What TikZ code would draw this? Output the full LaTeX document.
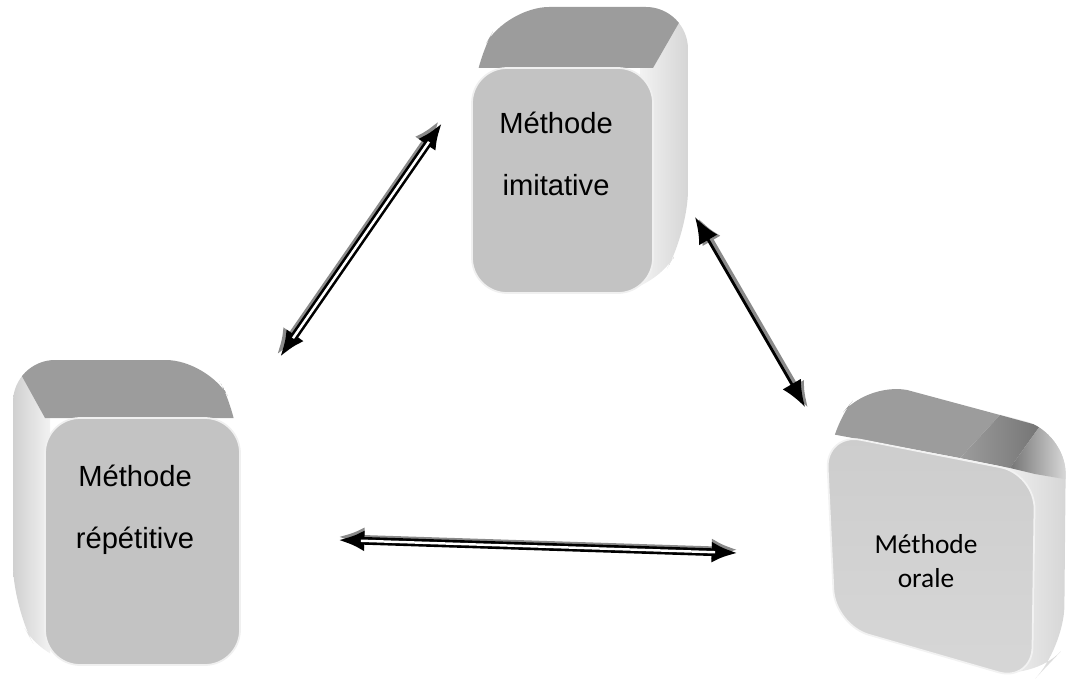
\documentclass[tikz,border=0pt]{standalone}
\usepackage{fontspec}
\setmainfont{Liberation Sans}
\newfontfamily\carl{Carlito}
\usetikzlibrary{arrows.meta}
\definecolor{frontc}{HTML}{C3C3C3}
\definecolor{front3}{HTML}{CDCDCD}
\definecolor{topc}{HTML}{9C9C9C}
\definecolor{sidec}{HTML}{DFDFDF}
\definecolor{shadowc}{HTML}{8A8A8A}
\tikzset{
  facefront/.style={fill=frontc, draw=white!75!frontc, line width=1pt, rounded corners=20},
  facetop/.style={fill=topc},
  tipL/.style={{Latex[length=15pt,width=12pt]}-{Latex[length=15pt,width=12pt]}},
  dbl/.style={black, line width=4.4pt, tipL},
  dblgap/.style={white, line width=1.4pt, shorten <=13pt, shorten >=13pt},
  sgl/.style={black, line width=1.6pt, tipL},
  shad/.style={shadowc, line width=3pt, tipL},
  lblA/.style={align=center, font={\fontsize{16.6}{35}\selectfont}},
  lblB/.style={align=center, font={\carl\fontsize{15.6}{19}\selectfont}},
}
\begin{document}
\begin{tikzpicture}[x=0.02cm, y=-0.02cm]
\useasboundingbox (0,0) rectangle (1070,686);

% ---------- Box 1 : imitative ----------
\begin{scope}
  \clip[rounded corners=24] (472,68) -- (507,7) -- (688,7) -- (688,232) -- (653,293) -- (472,293) -- cycle;
  \shade[left color=white!90!gray, right color=sidec!95!black] (640,0) rectangle (690,300);
  \fill[facetop] (472,68) -- (507,7) -- (688,7) -- (653,68) -- cycle;
\end{scope}
\path[facefront] (472,68) rectangle (653,293);
\node[lblA] (t1) at (556,154) {Méthode\\imitative};

% ---------- Box 2 : repetitive ----------
\begin{scope}
  \clip[rounded corners=24] (13,360) -- (208,360) -- (240,418) -- (240,665) -- (45,665) -- (13,607) -- cycle;
  \shade[left color=sidec!92!black, right color=white!90!gray] (10,355) rectangle (50,670);
  \fill[facetop] (13,360) -- (208,360) -- (240,418) -- (45,418) -- cycle;
\end{scope}
\path[facefront] (45,418) rectangle (240,665);
\node[lblA] (t2) at (135,510) {Méthode\\répétitive};

% ---------- Box 3 : orale ----------
\begin{scope}
  \clip[rounded corners=24] (826,433) -- (870,380) -- (1066,432) -- (1064,648) -- (1032,682) -- (835,625) -- cycle;
  \shade[left color=white!90!gray, right color=sidec!95!black] (1000,370) rectangle (1070,690);
  \fill[topc] (826,433) -- (870,380) -- (1000,415) -- (960,458) -- cycle;
  \shade[left color=topc, right color=topc!75!black] (960,458) -- (1000,415) -- (1040,426) -- (1010,468) -- cycle;
  \shade[left color=topc!75!black, right color=sidec] (1010,468) -- (1040,426) -- (1070,432) -- (1070,480) -- (1035,474) -- cycle;
\end{scope}
\shade[top color=front3, bottom color=front3!80!white, draw=white!75!front3, line width=1pt, rounded corners=20]
  (826,433) -- (1035,474) -- (1032,682) -- (835,625) -- cycle;
\node[lblB] (t3) at (926,561) {Méthode\\orale};

% ---------- Connectors ----------
\coordinate (a1) at (280,357);
\coordinate (a2) at (442,123);
\coordinate (b1) at (695,217);
\coordinate (b2) at (805,407);
\coordinate (c1) at (338,540);
\coordinate (c2) at (738,553);

% arrow repetitive <-> imitative (double line)
\draw[shad, transform canvas={shift={(-1.8pt,1.2pt)}}] (a1) -- (a2);
\draw[dbl] (a1) -- (a2);
\draw[dblgap] (a1) -- (a2);

% arrow imitative <-> orale (single line)
\draw[shad, transform canvas={shift={(1.8pt,-0.6pt)}}] (b1) -- (b2);
\draw[sgl] (b1) -- (b2);

% arrow repetitive <-> orale (double line)
\draw[shad, transform canvas={shift={(0pt,1.8pt)}}] (c1) -- (c2);
\draw[dbl] (c1) -- (c2);
\draw[dblgap] (c1) -- (c2);
\end{tikzpicture}
\end{document}
